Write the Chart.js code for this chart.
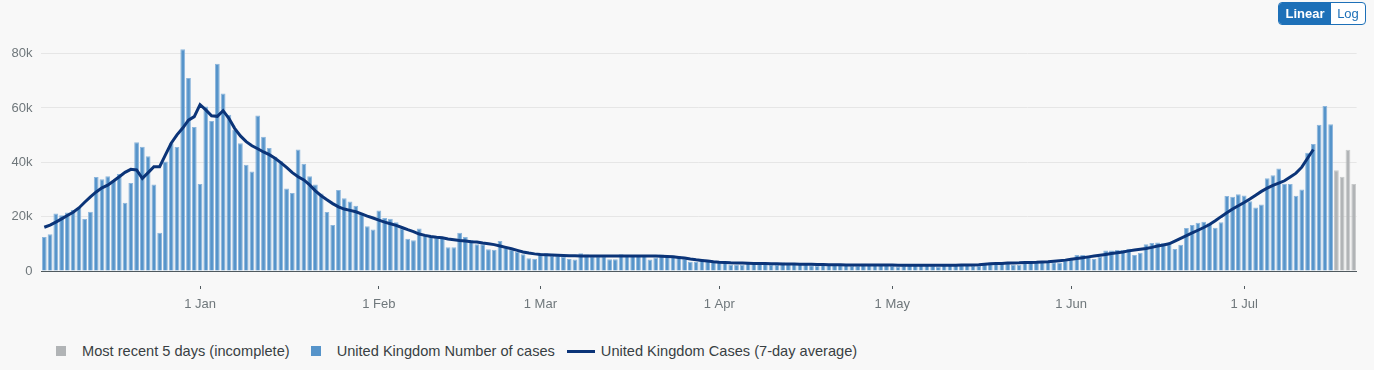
<!DOCTYPE html>
<html>
<head>
<meta charset="utf-8">
<script src="https://cdn.jsdelivr.net/npm/chart.js@4.4.1/dist/chart.umd.min.js"></script>
<style>
  html, body { margin: 0; padding: 0; background: #f8f8f8; }
  body { width: 1374px; height: 370px; position: relative; overflow: hidden;
         font-family: "Liberation Sans", Arial, sans-serif; }
  #wrap { position: absolute; left: 0; top: 0; width: 1374px; height: 316px; }
  .toggle { position: absolute; left: 1278px; top: 2px; height: 21px; display: flex;
            border: 1px solid #1d70b8; border-radius: 4px; overflow: hidden; font-size: 13px; background: #fff; }
  .toggle span { line-height: 21px; text-align: center; }
  .toggle .on { width: 52px; background: #1d70b8; color: #fff; font-weight: bold; }
  .toggle .off { width: 34px; color: #1d70b8; }
  .legend { position: absolute; left: 0; top: 342px; height: 18px; display: flex; align-items: center;
            font-size: 14.6px; color: #383f43; white-space: nowrap; }
  .legend .sq { width: 10px; height: 10px; display: inline-block; }
  .legend .ln { width: 28px; height: 3px; background: #0b3478; display: inline-block; }
</style>
</head>
<body>
<div id="wrap"><canvas id="chart"></canvas></div>
<div class="toggle"><span class="on">Linear</span><span class="off">Log</span></div>
<div class="legend">
  <span class="sq" style="margin-left:56px;background:#b1b4b6"></span>
  <span style="margin-left:16px">Most recent 5 days (incomplete)</span>
  <span class="sq" style="margin-left:21px;background:#5694ca"></span>
  <span style="margin-left:16px">United Kingdom Number of cases</span>
  <span class="ln" style="margin-left:12px"></span>
  <span style="margin-left:6px">United Kingdom Cases (7-day average)</span>
</div>
<script>
// daily values in thousands, starting 5 Dec 2020
const startDate = [2020, 11, 5]
const monthNames = ['Jan', 'Feb', 'Mar', 'Apr', 'May', 'Jun', 'Jul', 'Aug', 'Sep', 'Oct', 'Nov', 'Dec']
const yTicks = [0, 20, 40, 60, 80]

const cases = [
  // Dec
  12.5, 13.5, 21.2, 20.5, 21.5, 22.4, 23.4, 19.1, 21.8, 34.6, 33.8, 34.9, 33.2, 35.7, 25.1, 32.4,
  47.4, 45.7, 42.2, 31.8, 14.1, 40.3, 47.0, 45.6, 81.6, 71.0, 53.0,
  // Jan
  32.0, 60.5, 55.2, 76.3, 65.3, 57.5, 52.0, 47.0, 39.1, 36.6, 57.2, 49.4, 45.3, 42.0, 40.4, 30.4,
  28.7, 44.7, 39.5, 34.9, 31.8, 28.5, 21.7, 16.9, 29.8, 26.8, 25.6, 24.0, 21.4, 16.5, 15.3,
  // Feb
  22.3, 19.5, 19.2, 17.9, 15.6, 11.9, 11.3, 15.6, 13.4, 13.0, 12.2, 12.2, 8.7, 8.7, 14.1, 12.5,
  11.4, 9.8, 9.8, 8.0, 7.8, 11.0, 8.9, 7.7, 7.1, 6.2, 4.7, 4.5,
  // Mar
  6.5, 6.5, 5.5, 5.5, 5.3, 4.4, 4.2, 6.5, 6.1, 5.4, 5.4, 5.4, 4.3, 4.3, 6.2, 5.5,
  5.5, 5.5, 5.6, 4.2, 5.0, 6.1, 5.5, 5.7, 5.4, 4.4, 3.4, 3.3, 4.2, 4.0, 3.8,
  // Apr
  3.4, 2.9, 2.4, 2.2, 2.3, 2.9, 3.2, 3.0, 2.9, 2.4, 2.2, 3.1, 2.9, 2.8, 2.7, 2.6,
  2.1, 1.9, 2.8, 2.6, 2.6, 2.5, 2.4, 1.9, 1.8, 2.7, 2.6, 2.5, 2.4, 2.3,
  // May
  1.8, 1.7, 1.9, 2.6, 2.5, 2.4, 2.3, 1.8, 1.7, 2.5, 2.5, 2.5, 2.4, 2.4, 1.9, 1.8,
  2.9, 3.0, 3.0, 3.0, 2.9, 2.2, 2.3, 3.4, 3.5, 3.5, 3.6, 3.5, 3.2, 3.0, 4.0,
  // Jun
  4.2, 5.9, 5.9, 5.3, 4.4, 5.3, 7.5, 7.5, 7.7, 7.7, 8.2, 5.9, 6.7, 9.8, 10.3, 10.5,
  10.2, 9.8, 8.1, 9.7, 15.8, 16.9, 17.8, 18.1, 17.6, 15.9, 17.9, 27.6, 27.3, 28.2,
  // Jul
  27.8, 25.7, 23.4, 24.5, 34.1, 35.2, 37.7, 32.1, 32.0, 27.7, 30.0, 43.5, 46.7, 53.8, 60.7, 54.0
]

const incomplete = [37.1, 34.7, 44.6, 32.0]

const average = [
  16.1, 16.9, 18.0, 19.2, 20.4, 21.6, 23.2, 25.3, 27.3, 29.1,
  30.6, 31.6, 33.1, 34.7, 36.3, 37.4, 37.2, 34.1, 36.2, 38.4,
  38.4, 42.7, 47.0, 50.1, 52.6, 55.5, 56.8, 61.2, 59.3, 57.1,
  56.9, 59.0, 56.2, 52.5, 49.7, 47.6, 46.1, 45.0, 43.8, 42.8,
  41.5, 39.9, 38.1, 36.2, 34.7, 33.5, 31.7, 29.5, 27.7, 26.2,
  24.8, 23.6, 22.8, 22.3, 21.8, 21.0, 20.2, 19.5, 18.7, 18.0,
  17.4, 16.8, 16.0, 15.2, 14.5, 13.6, 13.1, 12.7, 12.4, 12.2,
  11.8, 11.5, 11.2, 11.0, 10.8, 10.7, 10.3, 10.0, 9.7, 9.2,
  8.7, 8.2, 7.6, 7.0, 6.6, 6.3, 6.1, 6.0, 5.9, 5.8,
  5.7, 5.6, 5.6, 5.5, 5.5, 5.5, 5.5, 5.5, 5.5, 5.5,
  5.5, 5.5, 5.5, 5.5, 5.5, 5.5, 5.5, 5.4, 5.3, 5.2,
  5.0, 4.8, 4.4, 4.1, 3.9, 3.7, 3.4, 3.2, 3.1, 3.0,
  2.95, 2.9, 2.85, 2.8, 2.8, 2.75, 2.7, 2.65, 2.6, 2.6,
  2.55, 2.5, 2.5, 2.45, 2.4, 2.35, 2.3, 2.3, 2.3, 2.25,
  2.2, 2.2, 2.2, 2.2, 2.2, 2.2, 2.2, 2.2, 2.15, 2.1,
  2.1, 2.1, 2.1, 2.1, 2.1, 2.1, 2.1, 2.15, 2.15, 2.2,
  2.2, 2.2, 2.3, 2.5, 2.65, 2.75, 2.8, 2.9, 2.95, 3.0,
  3.1, 3.15, 3.2, 3.3, 3.4, 3.6, 3.8, 4.0, 4.3, 4.6,
  4.9, 5.2, 5.5, 5.8, 6.1, 6.4, 6.7, 7.0, 7.4, 7.7,
  8.0, 8.3, 8.7, 9.2, 9.6, 10.0, 11.0, 12.0, 13.0, 14.0,
  15.0, 16.0, 17.1, 18.5, 20.0, 21.4, 22.8, 24.0, 25.2, 26.5,
  27.9, 29.3, 30.5, 31.5, 32.3, 33.2, 34.6, 36.0, 38.2, 41.5,
  44.7
]

const nDays = cases.length + incomplete.length
const dates = []
for (let i = 0; i < nDays; i++) {
  dates.push(new Date(Date.UTC(startDate[0], startDate[1], startDate[2] + i)))
}
const labels = dates.map(d => d.toISOString().slice(0, 10))

const pad = (arr, before, total) => {
  const out = new Array(total).fill(null)
  arr.forEach((v, i) => { out[before + i] = v })
  return out
}

const isMonthStart = i => dates[i] && dates[i].getUTCDate() === 1

new Chart(document.getElementById('chart'), {
  type: 'bar',
  data: {
    labels,
    datasets: [
      {
        type: 'line',
        label: 'United Kingdom Cases (7-day average)',
        data: pad(average, 0, nDays),
        borderColor: '#0b3478',
        borderWidth: 3,
        pointRadius: 0,
        tension: 0,
        order: 0
      },
      {
        label: 'United Kingdom Number of cases',
        data: pad(cases, 0, nDays),
        backgroundColor: '#5694ca',
        borderColor: '#8db6dc',
        borderWidth: 1,
        grouped: false,
        categoryPercentage: 1,
        barPercentage: 0.83,
        order: 1
      },
      {
        label: 'Most recent 5 days (incomplete)',
        data: pad(incomplete, cases.length, nDays),
        backgroundColor: '#b1b4b6',
        borderColor: '#c8cacb',
        borderWidth: 1,
        grouped: false,
        categoryPercentage: 1,
        barPercentage: 0.83,
        order: 2
      }
    ]
  },
  options: {
    responsive: true,
    maintainAspectRatio: false,
    animation: false,
    layout: { padding: { top: 40, right: 17.4, left: 0, bottom: 0 } },
    plugins: {
      legend: { display: false },
      tooltip: { enabled: false }
    },
    scales: {
      x: {
        afterFit: scale => { scale.height = 45 },
        grid: {
          drawOnChartArea: false,
          offset: false,
          tickLength: 18,
          tickColor: '#505a5f',
          tickBorderDash: [0, 14, 4, 100]
        },
        border: { display: true, color: '#505a5f', width: 1 },
        ticks: {
          autoSkip: false,
          maxRotation: 0,
          padding: 8,
          color: '#6f777b',
          font: { family: '"Liberation Sans", Arial, sans-serif', size: 13 },
          callback: (val, i) => isMonthStart(i) ? '1 ' + monthNames[dates[i].getUTCMonth()] : null
        }
      },
      y: {
        min: 0,
        max: 85,
        afterFit: scale => { scale.width = 41.4 },
        afterBuildTicks: scale => { scale.ticks = yTicks.map(v => ({ value: v })) },
        grid: { color: '#e6e6e6', drawTicks: false },
        border: { display: false },
        ticks: {
          padding: 9,
          color: '#6f777b',
          font: { family: '"Liberation Sans", Arial, sans-serif', size: 13 },
          callback: v => v === 0 ? '0' : v + 'k'
        }
      }
    }
  }
})
</script>
</body>
</html>
